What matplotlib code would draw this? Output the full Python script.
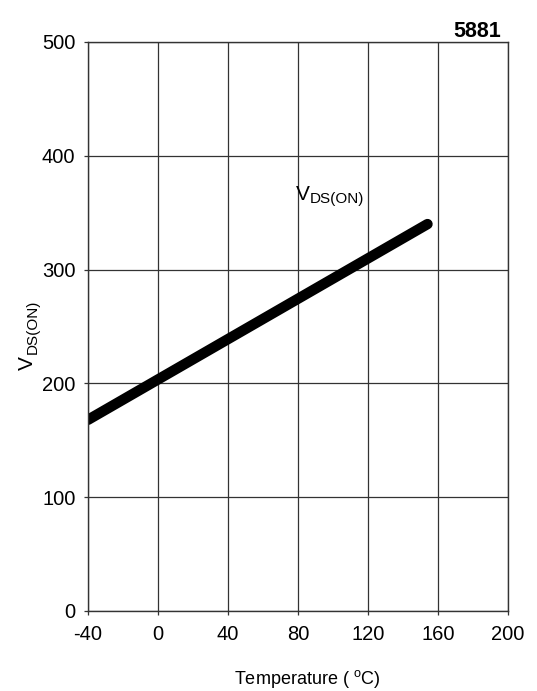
import matplotlib
matplotlib.use("Agg")
import matplotlib.pyplot as plt

plt.rcParams['font.family'] = ['Liberation Sans', 'DejaVu Sans']
plt.rcParams['mathtext.fontset'] = 'custom'
plt.rcParams['mathtext.rm'] = 'Liberation Sans'
plt.rcParams['mathtext.it'] = 'Liberation Sans'
plt.rcParams['axes.unicode_minus'] = False

temperature = [-40, 154]
vds_on = [168, 340]
x_ticks = [-40, 0, 40, 80, 120, 160, 200]
y_ticks = [0, 100, 200, 300, 400, 500]

W, H = 537, 691
fig = plt.figure(figsize=(W/100, H/100), dpi=100)
ax = fig.add_axes([88/W, 1-611/H, (508-88)/W, (611-42)/H])

ax.plot(temperature, vds_on, color='black', lw=7.5, solid_capstyle='round')
ax.set_xlim(-40, 200)
ax.set_ylim(0, 500)
ax.set_xticks(x_ticks)
ax.set_yticks(y_ticks)
ax.grid(True, color='#333333', lw=0.9)
ax.set_axisbelow(True)
for s in ax.spines.values():
    s.set_color('#333333')
    s.set_linewidth(1.0)
ax.tick_params(axis='both', direction='out', length=3, width=0.9, color='#333333',
               labelsize=14.5)
ax.tick_params(axis='x', pad=7)
ax.tick_params(axis='y', pad=6)

def fx(px):
    return px / W

def fy(py):
    return 1 - py / H

# in-plot label
fig.text(fx(296), fy(200), 'V', fontsize=15, ha='left', va='baseline')
fig.text(fx(310), fy(203), 'DS(ON)', fontsize=11, ha='left', va='baseline')

# title-like number
fig.text(fx(501), fy(37), '5881', fontsize=15.5, fontweight='bold', ha='right', va='baseline')

# y label
fig.text(fx(33), fy(370), 'V', fontsize=15, rotation=90, rotation_mode='anchor',
         ha='left', va='baseline')
fig.text(fx(37), fy(354), 'DS(ON)', fontsize=11, rotation=90, rotation_mode='anchor',
         ha='left', va='baseline')

# x label
fig.text(fx(234), fy(684), r'Temperature ( $\mathregular{^{o}}$C)', fontsize=13,
         ha='left', va='baseline')

fig.savefig('out.png', dpi=100)
